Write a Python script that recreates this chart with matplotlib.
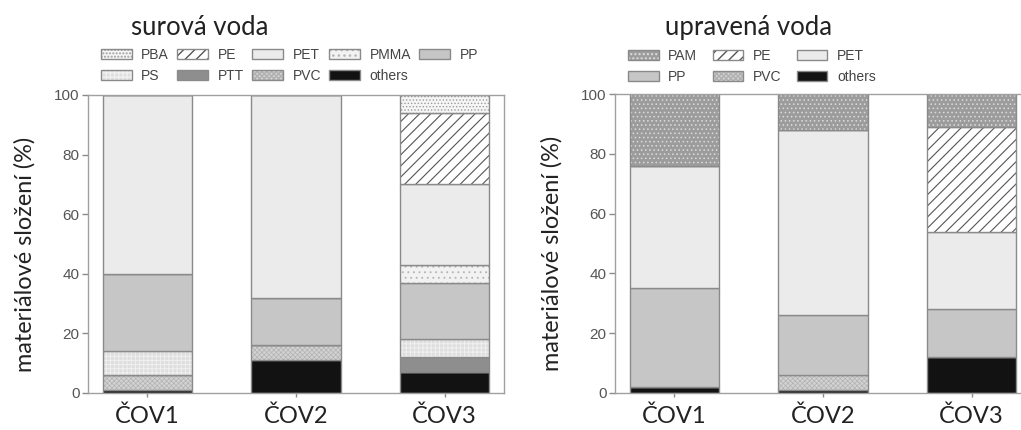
import matplotlib.pyplot as plt
import numpy as np

# materiálové složení mikroplastů na ČOV (%)
stations = ['ČOV1', 'ČOV2', 'ČOV3']

# surová voda
raw_materials = ['PBA', 'PE', 'PET', 'PMMA', 'PP', 'PS', 'PTT', 'PVC', 'others']
raw_PBA = [0, 0, 6]
raw_PE = [0, 0, 24]
raw_PET = [60, 68, 27]
raw_PMMA = [0, 0, 6]
raw_PP = [26, 16, 19]
raw_PS = [8, 0, 6]
raw_PTT = [0, 0, 5]
raw_PVC = [5, 5, 0]
raw_others = [1, 11, 7]

# upravená voda
tr_materials = ['PAM', 'PE', 'PET', 'PP', 'PVC', 'others']
tr_PAM = [24, 12, 11]
tr_PE = [0, 0, 35]
tr_PET = [41, 62, 26]
tr_PP = [33, 20, 16]
tr_PVC = [0, 5, 0]
tr_others = [2, 1, 12]

raw_values = [raw_PBA, raw_PE, raw_PET, raw_PMMA, raw_PP, raw_PS, raw_PTT, raw_PVC, raw_others]
tr_values = [tr_PAM, tr_PE, tr_PET, tr_PP, tr_PVC, tr_others]

# barva výplně, šrafa, barva šrafy, tloušťka šrafy
styles = {
    'PBA': ('#f6f6f6', '.....', '#9c9c9c', 0.6),
    'PE': ('white', '///', '#555555', 0.8),
    'PET': ('#ebebeb', None, None, 0.7),
    'PMMA': ('#f2f2f2', '...', '#b4b4b4', 0.6),
    'PP': ('#c6c6c6', None, None, 0.7),
    'PS': ('#dedede', '++++', '#f0f0f0', 0.7),
    'PTT': ('#8e8e8e', None, None, 0.7),
    'PVC': ('#d2d2d2', 'xxxxxxx', '#b0b0b0', 0.45),
    'others': ('#121212', None, None, 0.7),
    'PAM': ('#9c9c9c', '....', '#dcdcdc', 0.6),
}

edge = '#8a8a8a'
txt_font = 'Lato'
num_font = 'Liberation Sans'


def row_order(items, ncol):
    # legenda se plní po sloupcích, v originále jde po řádcích
    nrow = int(np.ceil(len(items) / ncol))
    rows = [items[i * ncol:(i + 1) * ncol] for i in range(nrow)]
    out = []
    for c in range(ncol):
        for r in rows:
            if c < len(r):
                out.append(r[c])
    return out


def draw_panel(ax, materials, values, title, title_x, leg_anchor, ncol, colsp):
    x = np.arange(len(stations))
    bottom = np.zeros(len(stations))
    handles = {}
    # stohuje se odspodu v obráceném pořadí legendy
    for name, vals in reversed(list(zip(materials, values))):
        vals = np.array(vals, dtype=float)
        fc, hatch, hc, hlw = styles[name]
        with plt.rc_context({'hatch.linewidth': hlw}):
            b1 = ax.bar(x, vals, 0.6, bottom=bottom, color=fc, hatch=hatch,
                        edgecolor=hc if hc else fc, linewidth=0)
        b2 = ax.bar(x, vals, 0.6, bottom=bottom, fill=False, edgecolor=edge, linewidth=1)
        handles[name] = (b1.patches[0], b2.patches[0])
        bottom += vals

    ax.set_xlim(-0.4, 2.4)
    ax.set_ylim(0, 100)
    ax.set_yticks([0, 20, 40, 60, 80, 100])
    ax.set_xticks(x)
    ax.set_xticklabels(stations, fontfamily=txt_font, fontsize=17, color='#222222')
    for lab in ax.get_yticklabels():
        lab.set_fontfamily(num_font)
        lab.set_fontsize(11)
        lab.set_color('#555555')
    ax.tick_params(axis='y', length=4, width=1, color=edge, pad=2)
    ax.tick_params(axis='x', length=3, width=1, color=edge, pad=6)
    for s in ax.spines.values():
        s.set_color('#a0a0a0')
        s.set_linewidth(1)
    ax.set_ylabel('materiálové složení (%)', fontfamily=txt_font, fontsize=16.9,
                  color='#222222')
    ax.yaxis.set_label_coords(-0.127, 0.466)

    fig.text(title_x, 0.935, title, ha='center', va='center',
             fontfamily=txt_font, fontsize=18.5, color='#222222')

    order = row_order(materials, ncol)
    leg = ax.legend([handles[m] for m in order], order, ncol=ncol,
                    loc='upper left', bbox_to_anchor=leg_anchor,
                    bbox_transform=fig.transFigure, frameon=False,
                    borderpad=0, borderaxespad=0, handlelength=2.2,
                    handleheight=0.7, handletextpad=0.7, columnspacing=colsp,
                    labelspacing=0.5, prop={'family': num_font, 'size': 10})
    for t in leg.get_texts():
        t.set_color('#444444')


fig = plt.figure(figsize=(10.21, 4.30), dpi=100)
ax1 = fig.add_axes([88 / 1021, 37 / 430, 416 / 1021, 298 / 430])
ax2 = fig.add_axes([615 / 1021, 37 / 430, 416 / 1021, 299 / 430])

draw_panel(ax1, raw_materials, raw_values, 'surová voda', 200 / 1021,
           (101 / 1021, 1 - 48 / 430), 5, 0.6)
draw_panel(ax2, tr_materials, tr_values, 'upravená voda', 748 / 1021,
           (628 / 1021, 1 - 49 / 430), 3, 1.1)

fig.savefig('out.png', dpi=100)
